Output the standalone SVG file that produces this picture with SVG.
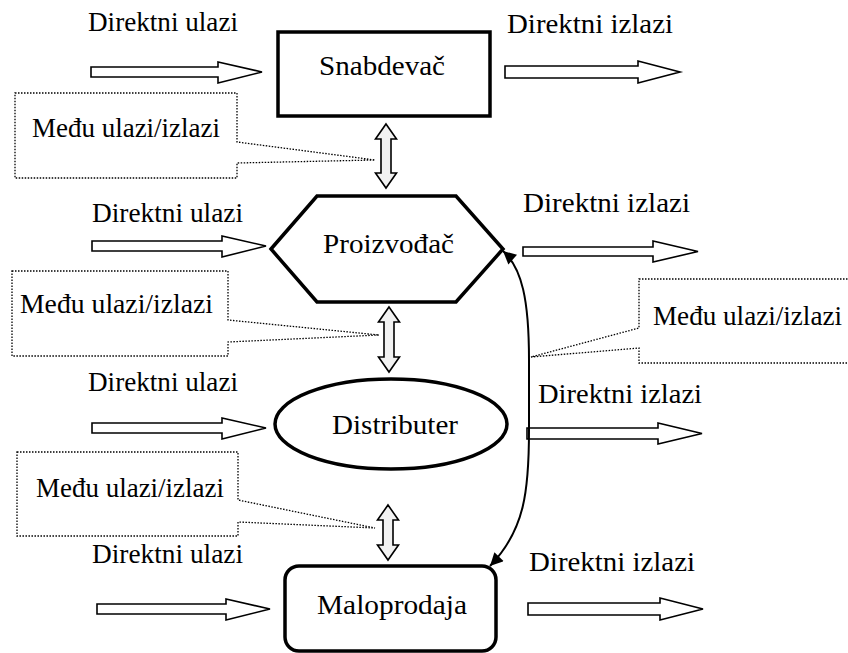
<svg xmlns="http://www.w3.org/2000/svg" width="848" height="653" viewBox="0 0 848 653">
<defs>
<style>
text{font-family:"Liberation Serif","DejaVu Serif",serif;font-size:27px;fill:#000}
.blk{fill:#fff;stroke:#000;stroke-width:1.6;stroke-linejoin:miter}
.dbl{fill:#f2f2f2;stroke:#000;stroke-width:1.6}
.call{fill:#fff;stroke:#000;stroke-width:1.3;stroke-dasharray:1.5 1.5}
.node{fill:#fff;stroke:#000;stroke-width:3.5}
.curve{fill:none;stroke:#000;stroke-width:2}
</style>
<marker id="ah" viewBox="0 0 10 10" refX="10" refY="5" markerWidth="15" markerHeight="13" markerUnits="userSpaceOnUse" orient="auto-start-reverse">
<path d="M0 0 L10 5 L0 10 Z" fill="#000"/>
</marker>
</defs>
<rect width="848" height="653" fill="#fff"/>

<g id="callouts">
<path class="call" d="M15 93 H237 V142 L375 160 L237 163 V178 H15 Z"/>
<text x="32" y="137" textLength="188" lengthAdjust="spacingAndGlyphs">Među ulazi/izlazi</text>
<path class="call" d="M12 271 H228 V320 L379 335 L228 342 V356 H12 Z"/>
<text x="20" y="313" textLength="193" lengthAdjust="spacingAndGlyphs">Među ulazi/izlazi</text>
<path class="call" d="M17 452 H238 V500 L375 528 L238 522 V536 H17 Z"/>
<text x="36" y="497" textLength="188" lengthAdjust="spacingAndGlyphs">Među ulazi/izlazi</text>
<path class="call" d="M639 279 H860 V363 H639 V348 L531 357 L639 328 Z"/>
<text x="653" y="325" textLength="189" lengthAdjust="spacingAndGlyphs">Među ulazi/izlazi</text>
</g>

<g id="connectors">
<path class="blk" d="M91 67 H218 V62 L262 72 L218 83 V77 H91 Z"/>
<path class="blk" d="M505 66 H638 V61 L680 72 L638 83 V78 H505 Z"/>
<path class="blk" d="M92 241 H222 V236 L266 246 L222 257 V251 H92 Z"/>
<path class="blk" d="M523 247 H653 V241 L698 251.5 L653 262 V256 H523 Z"/>
<path class="blk" d="M92 423 H222 V418 L266 428 L222 439 V433 H92 Z"/>
<path class="blk" d="M527 428 H658 V423 L702 433.5 L658 444 V439 H527 Z"/>
<path class="blk" d="M97 604 H226 V599 L270 609 L226 620 V614 H97 Z"/>
<path class="blk" d="M528 603 H660 V598 L703 609 L660 620 V615 H528 Z"/>
<path class="dbl" d="M386 124 L396.5 139 H391 V173 H396.5 L386 188 L375.5 173 H381 V139 H375.5 Z"/>
<path class="dbl" d="M389 307 L399.5 322 H394 V357 H399.5 L389 372 L378.5 357 H384 V322 H378.5 Z"/>
<path class="dbl" d="M388 505 L398.5 520 H393 V545 H398.5 L388 560 L377.5 545 H383 V520 H377.5 Z"/>
<path class="curve" d="M503 251 C522 268, 529 300, 529 360 L529 430 C529 490, 525 530, 490 566" marker-start="url(#ah)" marker-end="url(#ah)"/>
</g>

<g id="labels">
<text x="88" y="31" textLength="150" lengthAdjust="spacingAndGlyphs">Direktni ulazi</text>
<text x="507" y="33" textLength="166" lengthAdjust="spacingAndGlyphs">Direktni izlazi</text>
<text x="92" y="222" textLength="151" lengthAdjust="spacingAndGlyphs">Direktni ulazi</text>
<text x="523" y="212" textLength="167" lengthAdjust="spacingAndGlyphs">Direktni izlazi</text>
<text x="88" y="391" textLength="150" lengthAdjust="spacingAndGlyphs">Direktni ulazi</text>
<text x="538" y="403" textLength="164" lengthAdjust="spacingAndGlyphs">Direktni izlazi</text>
<text x="92" y="563" textLength="151" lengthAdjust="spacingAndGlyphs">Direktni ulazi</text>
<text x="529" y="571" textLength="166" lengthAdjust="spacingAndGlyphs">Direktni izlazi</text>
</g>

<g id="snabdevac">
<rect class="node" x="278" y="32" width="212" height="84" stroke-width="3"/>
<text x="319" y="75" textLength="126" lengthAdjust="spacingAndGlyphs">Snabdevač</text>
</g>
<g id="proizvodjac">
<polygon class="node" points="271,249 317,196 456,196 503,249 456,302 317,302"/>
<text x="323" y="253" textLength="131" lengthAdjust="spacingAndGlyphs">Proizvođač</text>
</g>
<g id="distributer">
<ellipse class="node" cx="391" cy="424" rx="116" ry="45"/>
<text x="332" y="434" textLength="126" lengthAdjust="spacingAndGlyphs">Distributer</text>
</g>
<g id="maloprodaja">
<rect class="node" x="285" y="566" width="211" height="85" rx="14"/>
<text x="317" y="614" textLength="150" lengthAdjust="spacingAndGlyphs">Maloprodaja</text>
</g>
</svg>
